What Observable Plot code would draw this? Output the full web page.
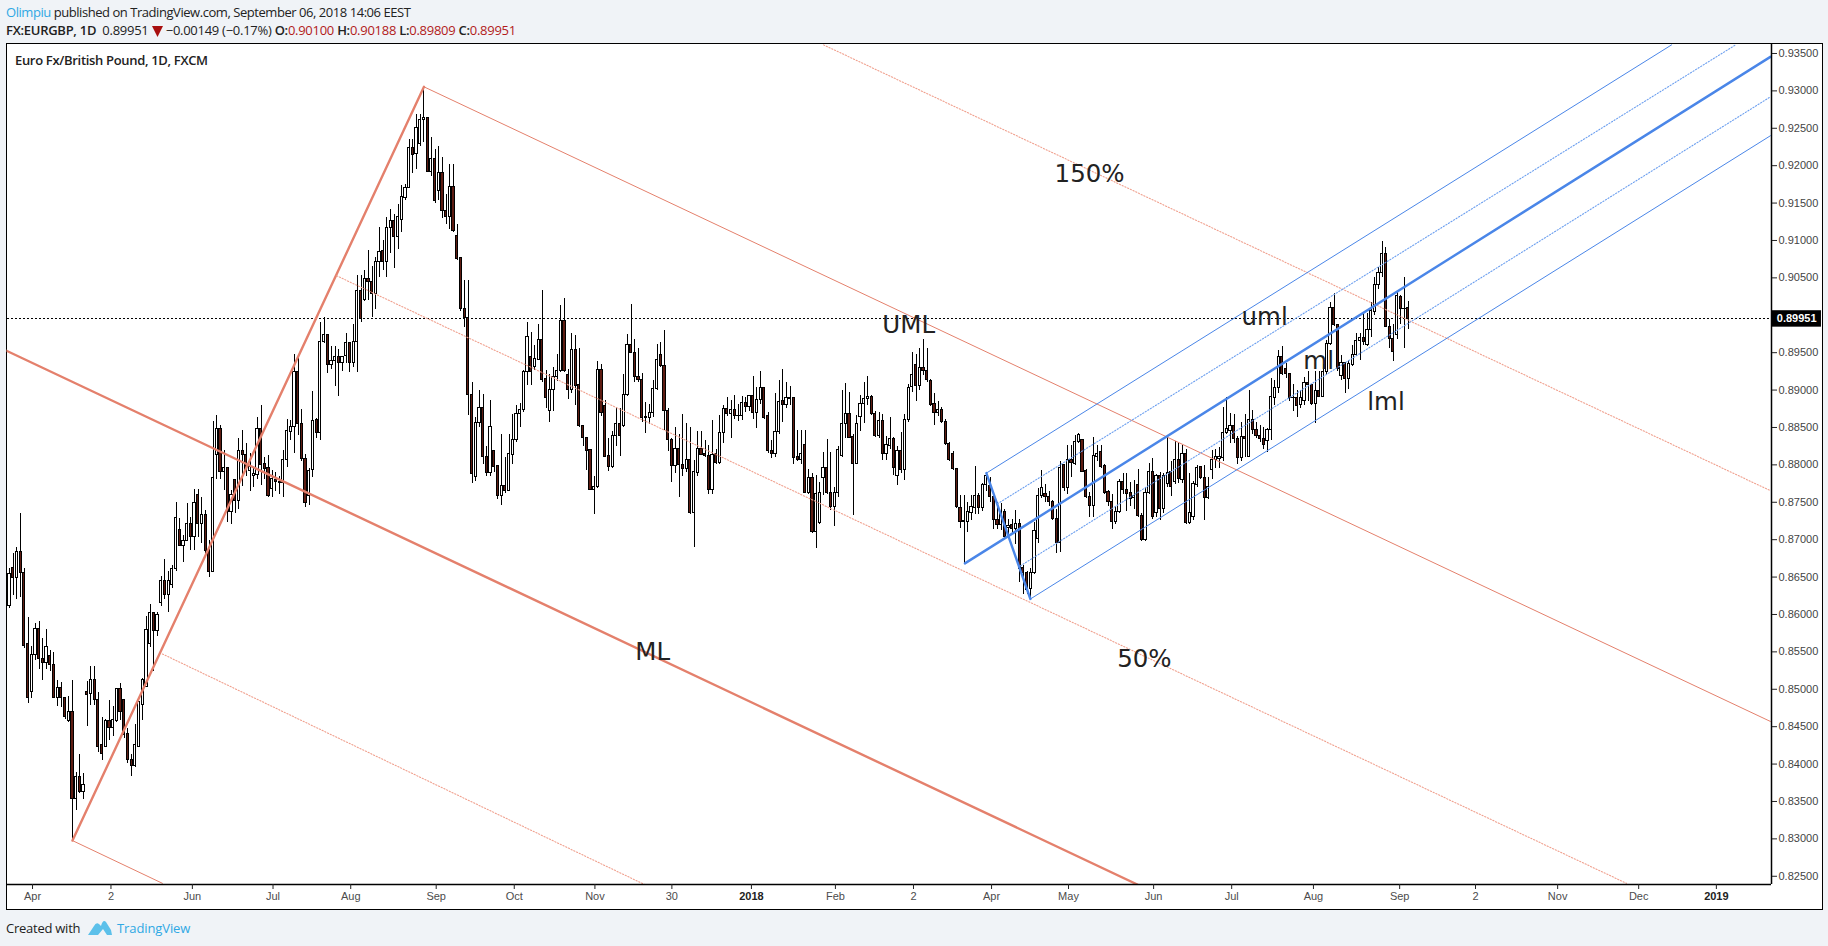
<!DOCTYPE html>
<html>
<head>
<meta charset="utf-8">
<script src="https://cdn.jsdelivr.net/npm/d3@7"></script>
<script src="https://cdn.jsdelivr.net/npm/@observablehq/plot@0.6"></script>
<style>
html,body{margin:0;padding:0;width:1828px;height:946px;overflow:hidden;background:#f0f3f7;font-family:"Open Sans",sans-serif;color:#222}
.abs{position:absolute;white-space:nowrap}
#frame{position:absolute;left:5.5px;top:43px;width:1815px;height:865px;background:#fff;border:1.5px solid #000;box-sizing:content-box}
#chart{position:absolute;left:0;top:43px}
#chart svg{background:transparent;overflow:visible}
.blue{color:#2fa8e4}.red{color:#b21a1a}b{font-weight:600}
</style>
</head>
<body>
<div id="frame"></div>
<div id="chart"></div>
<div class="abs" style="left:6px;top:3px;font-size:13px;line-height:18px;letter-spacing:-.45px"><span class="blue">Olimpiu</span> published on TradingView.com, September 06, 2018 14:06 EEST</div>
<div class="abs" style="left:6px;top:21px;font-size:13px;line-height:18px;letter-spacing:-.27px"><b>FX:EURGBP, 1D</b>&nbsp; 0.89951 <svg width="11" height="11" viewBox="0 0 11 11" style="vertical-align:-2px"><path d="M0 0H11L5.5 11Z" fill="#a80f0f"/></svg> −0.00149 (−0.17%) <b>O:</b><span class="red">0.90100</span> <b>H:</b><span class="red">0.90188</span> <b>L:</b><span class="red">0.89809</span> <b>C:</b><span class="red">0.89951</span></div>
<div class="abs" style="left:15px;top:51px;font-size:13px;line-height:18px;font-weight:600;letter-spacing:-.32px">Euro Fx/British Pound, 1D, FXCM</div>
<div class="abs" style="left:6px;top:919px;font-size:13px;line-height:18px;letter-spacing:-.25px">Created with</div>
<svg class="abs" style="left:88px;top:918px" width="24" height="18" viewBox="0 0 24 18"><path d="M0 17 L6 8 Q8 4 11 6 L13 8 Q15 1 18 4 L23 12 L24 17 L19 17 L15 11 L10 17 Z" fill="#5cc0ea"/></svg>
<div class="abs blue" style="left:117px;top:919px;font-size:13px;line-height:18px;letter-spacing:-.1px">TradingView</div>
<script>
// Daily candles, prices in units of 0.0001
const opens = [
8611,8662,8649,8684,8656,8560,8496,8546,8580,8540,
8535,8544,8533,8488,8502,8488,8458,8470,8353,8383,
8362,8496,8494,8512,8486,8425,8423,8458,8448,8458,
8500,8485,8440,8405,8398,8423,8479,8503,8560,8602,
8578,8615,8645,8626,8639,8661,8713,8692,8698,8721,
8703,8760,8721,8733,8685,8657,8813,8848,8790,8796,
8737,8780,8752,8818,8813,8792,8785,8787,8848,8801,
8796,8768,8780,8777,8776,8807,8844,8850,8924,8855,
8808,8759,8793,8860,8842,8964,8973,8934,8939,8944,
8936,8945,8963,8936,8964,9032,9021,9048,9044,9029,
9071,9086,9071,9117,9126,9105,9127,9157,9170,9223,
9215,9229,9261,9264,9192,9209,9166,9190,9139,9132,
9172,9106,9076,9008,8996,8893,8784,8856,8876,8811,
8789,8818,8798,8759,8772,8765,8813,8833,8868,8873,
8924,8944,8931,8940,8967,8915,8872,8900,8918,8925,
8993,8920,8900,8953,8907,8852,8836,8820,8767,8770,
8927,8879,8812,8797,8838,8855,8852,8893,8960,8950,
8918,8913,8863,8863,8870,8901,8947,8932,8872,8833,
8798,8821,8800,8795,8806,8736,8789,8821,8815,8812,
8767,8815,8803,8843,8875,8868,8873,8865,8865,8883,
8877,8892,8870,8887,8903,8866,8819,8814,8844,8885,
8880,8889,8889,8810,8806,8827,8763,8782,8710,8722,
8783,8796,8763,8744,8763,8812,8855,8868,8837,8801,
8864,8882,8888,8891,8868,8838,8859,8815,8825,8834,
8785,8818,8793,8860,8904,8934,8906,8929,8925,8912,
8881,8869,8873,8857,8828,8815,8795,8743,8723,8724,
8735,8743,8759,8742,8773,8772,8757,8726,8719,8737,
8716,8719,8714,8721,8662,8656,8634,8655,8701,8759,
8761,8757,8750,8728,8695,8800,8769,8806,8801,8830,
8833,8792,8757,8745,8811,8817,8798,8764,8751,8723,
8737,8777,8766,8762,8756,8773,8732,8700,8763,8791,
8736,8785,8741,8774,8790,8777,8806,8780,8814,8722,
8730,8773,8797,8783,8756,8793,8806,8808,8809,8843,
8845,8852,8835,8809,8837,8811,8860,8846,8839,8835,
8832,8846,8890,8903,8944,8928,8921,8889,8890,8880,
8886,8910,8907,8882,8899,8891,8924,8961,9010,8987,
8919,8936,8915,8934,8947,8965,8970,8960,8980,9004,
9040,9056,9082,8984,8968,8973,9025,9008,9010];
const highs = [
8661,8681,8689,8735,8661,8596,8557,8588,8591,8568,
8580,8552,8549,8512,8509,8488,8490,8512,8389,8413,
8387,8511,8530,8530,8496,8462,8459,8485,8477,8500,
8508,8485,8447,8413,8453,8483,8514,8597,8614,8602,
8603,8651,8674,8657,8665,8750,8728,8706,8749,8730,
8767,8767,8756,8739,8699,8858,8866,8853,8819,8797,
8766,8781,8835,8846,8828,8815,8795,8863,8879,8810,
8813,8793,8790,8784,8819,8860,8859,8948,8948,8874,
8814,8795,8898,8862,8990,8997,8973,8958,8958,8954,
8944,8975,8964,8988,9053,9053,9060,9087,9065,9077,
9117,9100,9131,9142,9135,9148,9173,9175,9235,9235,
9269,9269,9305,9264,9237,9221,9225,9211,9161,9202,
9202,9121,9077,9046,9046,8910,8863,8899,8894,8824,
8886,8818,8799,8841,8810,8841,8868,8879,8882,8926,
8991,8977,8959,8988,9033,8926,8921,8930,8947,9013,
9023,8927,8975,8973,8956,8852,8836,8821,8784,8938,
8934,8886,8835,8845,8877,8876,8921,8974,9014,8967,
8955,8922,8884,8881,8913,8961,8964,8980,8875,8835,
8850,8841,8867,8855,8850,8806,8844,8845,8833,8826,
8859,8820,8866,8879,8890,8886,8893,8881,8892,8890,
8893,8918,8904,8925,8904,8870,8832,8895,8913,8928,
8910,8905,8890,8846,8846,8846,8794,8788,8786,8777,
8817,8834,8817,8770,8824,8899,8909,8897,8841,8866,
8893,8910,8918,8893,8872,8870,8868,8838,8864,8837,
8824,8843,8868,8908,8950,8947,8955,8967,8955,8914,
8896,8885,8877,8860,8830,8818,8795,8759,8759,8750,
8759,8798,8762,8775,8790,8783,8758,8750,8748,8741,
8727,8727,8739,8727,8665,8657,8661,8723,8769,8792,
8774,8765,8752,8741,8804,8801,8826,8826,8839,8842,
8834,8794,8763,8837,8826,8826,8800,8766,8761,8745,
8781,8789,8788,8776,8779,8794,8735,8770,8802,8808,
8787,8790,8788,8837,8805,8831,8828,8826,8820,8788,
8778,8799,8798,8799,8783,8819,8821,8823,8877,8890,
8869,8868,8838,8857,8868,8900,8873,8857,8852,8850,
8848,8915,8913,8953,8958,8935,8922,8908,8899,8899,
8917,8925,8908,8925,8925,8934,8966,9017,9029,8988,
8946,8937,8939,8959,8976,8976,9003,9003,9017,9050,
9064,9098,9090,8994,8987,9032,9026,9051,9018];
const lows = [
8608,8625,8620,8623,8555,8481,8488,8538,8527,8512,
8526,8524,8488,8477,8476,8460,8455,8298,8338,8360,
8352,8450,8478,8478,8416,8405,8422,8431,8437,8455,
8458,8434,8401,8383,8395,8422,8458,8503,8556,8524,
8570,8610,8620,8603,8635,8657,8691,8669,8697,8686,
8686,8703,8695,8680,8650,8657,8780,8780,8766,8723,
8720,8735,8740,8771,8785,8764,8770,8780,8772,8781,
8757,8757,8764,8761,8757,8797,8833,8815,8839,8804,
8743,8746,8783,8835,8833,8962,8922,8928,8905,8891,
8925,8935,8923,8930,8923,8990,9018,9020,8997,9008,
9050,9060,9050,9082,9063,9088,9111,9153,9170,9190,
9195,9225,9231,9192,9185,9150,9153,9130,9122,9115,
9110,9073,9005,8983,8866,8775,8778,8850,8800,8784,
8785,8790,8754,8746,8762,8764,8801,8830,8850,8870,
8906,8906,8926,8939,8910,8875,8856,8872,8912,8924,
8924,8887,8895,8879,8850,8824,8793,8766,8734,8768,
8865,8810,8791,8795,8824,8811,8850,8891,8950,8910,
8910,8857,8842,8854,8864,8900,8930,8846,8818,8777,
8788,8757,8785,8790,8734,8690,8785,8813,8810,8761,
8761,8801,8800,8829,8865,8835,8860,8858,8859,8870,
8872,8860,8849,8881,8860,8815,8809,8810,8840,8856,
8875,8880,8800,8805,8800,8762,8761,8708,8688,8720,
8759,8760,8739,8717,8757,8810,8835,8835,8732,8800,
8844,8855,8880,8866,8836,8835,8806,8806,8820,8786,
8772,8788,8779,8856,8897,8885,8900,8920,8910,8878,
8852,8865,8855,8826,8805,8793,8742,8715,8668,8710,
8725,8734,8734,8738,8765,8750,8714,8714,8712,8701,
8703,8708,8694,8643,8627,8627,8621,8654,8695,8755,
8750,8745,8725,8682,8683,8765,8761,8783,8799,8829,
8790,8755,8729,8730,8805,8795,8760,8745,8713,8720,
8735,8760,8738,8745,8741,8730,8697,8698,8760,8727,
8730,8725,8735,8770,8758,8774,8775,8775,8720,8720,
8725,8770,8780,8726,8754,8781,8795,8795,8805,8840,
8828,8828,8800,8805,8810,8810,8841,8835,8830,8820,
8817,8832,8880,8895,8920,8915,8885,8872,8864,8875,
8880,8885,8880,8855,8890,8890,8920,8959,8985,8925,
8913,8896,8901,8932,8945,8939,8960,8958,8970,9000,
9035,9051,8983,8955,8938,8967,8988,8955,8981];
const closes = [
8654,8649,8684,8656,8558,8488,8546,8580,8540,8535,
8557,8532,8488,8502,8488,8463,8470,8353,8383,8362,
8372,8493,8512,8486,8423,8413,8458,8448,8459,8500,
8469,8439,8405,8398,8425,8483,8512,8579,8602,8578,
8599,8645,8626,8645,8661,8729,8692,8698,8721,8703,
8749,8721,8733,8685,8657,8783,8848,8790,8796,8737,
8760,8752,8818,8813,8792,8797,8788,8848,8800,8795,
8758,8781,8777,8776,8807,8845,8850,8924,8855,8808,
8749,8792,8858,8842,8964,8974,8934,8939,8944,8936,
8944,8963,8936,8964,9032,8995,9048,9044,9029,9071,
9085,9071,9117,9126,9105,9132,9158,9170,9223,9214,
9251,9261,9264,9192,9209,9153,9190,9139,9132,9172,
9113,9075,9008,8996,8893,8788,8856,8876,8810,8789,
8850,8797,8759,8772,8765,8815,8833,8868,8874,8924,
8971,8924,8942,8967,8914,8890,8900,8918,8925,8993,
8926,8900,8953,8906,8852,8836,8819,8767,8770,8927,
8870,8811,8797,8839,8855,8839,8893,8960,8950,8918,
8913,8863,8864,8870,8901,8940,8932,8872,8833,8798,
8821,8800,8795,8806,8736,8790,8821,8813,8812,8767,
8813,8803,8843,8875,8868,8873,8865,8866,8883,8877,
8892,8870,8887,8903,8863,8818,8814,8844,8884,8880,
8889,8888,8809,8806,8815,8763,8782,8710,8761,8763,
8796,8763,8744,8763,8820,8855,8868,8836,8801,8855,
8882,8888,8891,8868,8838,8858,8815,8826,8834,8796,
8818,8793,8860,8903,8920,8906,8930,8925,8913,8880,
8869,8873,8857,8828,8807,8795,8744,8723,8725,8737,
8744,8759,8742,8773,8785,8757,8726,8719,8737,8704,
8718,8714,8721,8661,8656,8633,8655,8712,8759,8769,
8757,8750,8728,8695,8796,8769,8806,8802,8830,8840,
8791,8757,8745,8812,8814,8797,8763,8750,8723,8737,
8777,8766,8761,8754,8758,8731,8700,8763,8791,8730,
8785,8741,8785,8789,8770,8806,8781,8815,8722,8736,
8774,8796,8783,8756,8770,8806,8811,8810,8843,8848,
8852,8835,8809,8837,8835,8860,8846,8839,8835,8826,
8846,8891,8903,8944,8921,8921,8889,8890,8879,8890,
8910,8907,8882,8899,8891,8924,8962,9010,8987,8928,
8936,8915,8935,8947,8965,8970,8964,8980,9006,9040,
9056,9082,8984,8968,8951,9026,9008,9009,8995];

// Time axis (position in trading bars)
const tickBars   = [6.2,27.4,49.4,71.2,92.2,115.3,136.4,158.2,179,223.2,244.3,265.4,286.2,309.2,330.3,352.4,375.7,396.2,418.4,440.3];
const tickLabels = ["Apr","2","Jun","Jul","Aug","Sep","Oct","Nov","30","Feb","2","Apr","May","Jun","Jul","Aug","Sep","2","Nov","Dec"];
const yearBars   = [200.5,461.3];
const yearLabels = ["2018","2019"];
// 0.90000 is hidden behind the last-price tag in the reference
const priceTicks = [0.825,0.83,0.835,0.84,0.845,0.85,0.855,0.86,0.865,0.87,0.875,0.88,0.885,0.89,0.895,0.905,0.91,0.915,0.92,0.925,0.93,0.935];
const lastPrice = 0.89951;

// Pitchfork drawings: [bar, price in 0.0001]
const redHandle   = [[17,8297.7],[112,9305.4]];
const redMedian   = [[-0.84,8952.6],[304.8,8239]];
const redUpper    = [[112,9305.4],[475.9,8457]];
const redLower    = [[17,8297.7],[41.3,8240.6]];
const red150      = [[220,9361.5],[475.9,8765.5]];
const red50Upper  = [[88.4,9052.8],[437,8240.6]];
const red50Lower  = [[41.3,8547.2],[171.6,8239]];
const blueHandle  = [[264,8789],[275.9,8620.7]];
const blueMedian  = [[258.2,8668.3],[475.9,9345.5]];
const blueUpper   = [[264,8789],[449.2,9361.5]];
const blueLower   = [[275.9,8620.7],[475.9,9240]];
const blue50Upper = [[267,8748],[466.5,9361.5]];
const blue50Lower = [[273.2,8665],[475.9,9292]];

// Annotations
const noteTexts = ["150%","UML","uml","ml","lml","ML","50%"];
const noteBars  = [291.9,243,339.2,353.8,372,173.8,306.7];
const notePips  = [9188,8987,8998,8938,8884,8549,8540];

const xMin = -0.7, xMax = 476.2, yMin = 0.8239, yMax = 0.9362;
const bars = opens.map((o,i)=>({i,o:o/1e4,h:highs[i]/1e4,l:lows[i]/1e4,c:closes[i]/1e4}));
const notes = noteTexts.map((t,i)=>({t,i:noteBars[i],p:notePips[i]/1e4}));

const RED="#e4806c", REDL="#f0a08e", BLUE="#4a86e8", BLUEL="#6c9fef";
const seg=(pts,stroke,strokeWidth,dash)=>Plot.line(pts,{x:d=>d[0],y:d=>d[1]/1e4,stroke,strokeWidth,strokeDasharray:dash,clip:true});

const chart = Plot.plot({
  width:1828, height:866,
  marginLeft:6.5, marginRight:57, marginTop:1, marginBottom:25,
  style:{fontFamily:"'Liberation Sans',Arial,sans-serif",fontSize:"11px",background:"transparent"},
  x:{domain:[xMin,xMax]},
  y:{domain:[yMin,yMax]},
  marks:[
    Plot.ruleY([lastPrice],{stroke:"#000",strokeWidth:1,strokeDasharray:"2,2",shapeRendering:"crispEdges"}),
    Plot.ruleX(bars,{x:"i",y1:"l",y2:"h",stroke:"#000",strokeWidth:1,shapeRendering:"crispEdges"}),
    Plot.rect(bars,{x1:d=>d.i-0.3,x2:d=>d.i+0.3,y1:"o",y2:"c",fill:d=>d.c>=d.o?"#fff":"#5e1c12",stroke:"#000",strokeWidth:1,shapeRendering:"crispEdges"}),
    seg(redHandle,RED,2.4),
    seg(redMedian,RED,2.4),
    seg(redUpper,RED,1),
    seg(redLower,RED,1),
    seg(red150,REDL,1.1,"1.2,1.8"),
    seg(red50Upper,REDL,1.1,"1.2,1.8"),
    seg(red50Lower,REDL,1.1,"1.2,1.8"),
    seg(blueHandle,BLUE,2.4),
    seg(blueMedian,BLUE,2.4),
    seg(blueUpper,BLUE,1),
    seg(blueLower,BLUE,1),
    seg(blue50Upper,BLUEL,1.1,"1.2,1.8"),
    seg(blue50Lower,BLUEL,1.1,"1.2,1.8"),
    Plot.text(notes,{x:"i",y:"p",text:"t",fontSize:24.5,fontFamily:"'DejaVu Sans',Verdana,sans-serif",fill:"#222"}),
    Plot.ruleX([xMax],{stroke:"#000",strokeWidth:1.5}),
    Plot.ruleY([yMin],{stroke:"#000",strokeWidth:1.5}),
    Plot.axisY({anchor:"right",ticks:priceTicks,tickFormat:d=>d.toFixed(5),tickSize:5,tickPadding:2,label:null,fill:"#444",fontSize:11}),
    Plot.axisX({ticks:tickBars,tickFormat:d=>tickLabels[tickBars.indexOf(d)],tickSize:5,tickPadding:3,label:null,fill:"#4c4c4c",fontSize:11}),
    Plot.axisX({ticks:yearBars,tickFormat:d=>yearLabels[yearBars.indexOf(d)],tickSize:5,tickPadding:3,label:null,fill:"#222",fontWeight:"bold",fontSize:11}),
    Plot.rect([lastPrice],{x1:()=>xMax,x2:()=>xMax+13.5,y1:d=>d-0.0011,y2:d=>d+0.0011,fill:"#000"}),
    Plot.text([lastPrice],{x:()=>xMax+6.8,y:d=>d,text:d=>d.toFixed(5),fill:"#fff",fontWeight:"bold",fontSize:11})
  ]
});
document.getElementById("chart").appendChild(chart);
</script>
</body>
</html>
